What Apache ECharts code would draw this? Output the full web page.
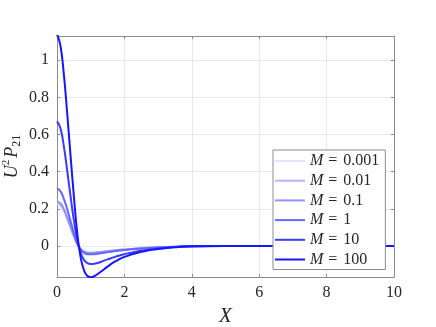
<!DOCTYPE html>
<html>
<head>
<meta charset="utf-8">
<script src="https://cdn.jsdelivr.net/npm/echarts@6/dist/echarts.min.js"></script>
<style>
  html, body { margin: 0; padding: 0; background: #fff; }
  #chart { width: 436px; height: 327px; }
</style>
</head>
<body>
<div id="chart"></div>
<script>
  // sample positions along X
  let xVals = [0, 0.1, 0.2, 0.3, 0.4, 0.5, 0.6, 0.7, 0.8, 0.9, 1.0, 1.1, 1.2, 1.3, 1.4, 1.5, 1.6, 1.7, 1.8, 1.9, 2.0,
    2.2, 2.4, 2.6, 2.8, 3.0, 3.5, 4, 5, 6, 7, 8, 9, 10]

  let mLabels = ['0.001', '0.01', '0.1', '1', '10', '100']

  let yM0001 = [0.228, 0.218, 0.19, 0.147, 0.1, 0.052, 0.011, -0.015, -0.029, -0.035, -0.036, -0.035, -0.033, -0.031, -0.029, -0.027, -0.025, -0.023, -0.021, -0.02, -0.019,
    -0.016, -0.013, -0.011, -0.009, -0.007, -0.004, -0.001, 0, 0, 0, 0, 0, 0]
  let yM001 = [0.232, 0.222, 0.193, 0.15, 0.102, 0.053, 0.011, -0.015, -0.03, -0.036, -0.037, -0.036, -0.034, -0.032, -0.03, -0.028, -0.026, -0.024, -0.022, -0.02, -0.019,
    -0.016, -0.013, -0.011, -0.009, -0.007, -0.004, -0.001, 0, 0, 0, 0, 0, 0]
  let yM01 = [0.24, 0.23, 0.2, 0.155, 0.105, 0.055, 0.012, -0.016, -0.031, -0.037, -0.038, -0.037, -0.035, -0.033, -0.031, -0.029, -0.027, -0.025, -0.023, -0.021, -0.02,
    -0.017, -0.014, -0.011, -0.009, -0.007, -0.004, -0.001, 0, 0, 0, 0, 0, 0]
  let yM1 = [0.31, 0.295, 0.255, 0.2, 0.135, 0.07, 0.015, -0.02, -0.037, -0.044, -0.045, -0.044, -0.042, -0.039, -0.036, -0.033, -0.031, -0.028, -0.026, -0.024, -0.022,
    -0.018, -0.015, -0.012, -0.01, -0.008, -0.004, -0.001, 0, 0, 0, 0, 0, 0]
  let yM10 = [0.67, 0.635, 0.54, 0.41, 0.27, 0.14, 0.035, -0.035, -0.075, -0.092, -0.097, -0.096, -0.092, -0.086, -0.079, -0.072, -0.066, -0.06, -0.054, -0.049, -0.044,
    -0.036, -0.029, -0.023, -0.018, -0.014, -0.006, -0.002, 0, 0, 0, 0, 0, 0]
  let yM100 = [1.14, 1.08, 0.93, 0.72, 0.49, 0.27, 0.07, -0.06, -0.13, -0.162, -0.168, -0.163, -0.152, -0.139, -0.125, -0.111, -0.098, -0.086, -0.076, -0.067, -0.059,
    -0.046, -0.036, -0.028, -0.021, -0.016, -0.007, -0.002, 0, 0, 0, 0, 0, 0]

  let seriesY = [yM0001, yM001, yM01, yM1, yM10, yM100]
  let colors = ['#e4e4ff', '#b4b4ff', '#9292ff', '#6767ff', '#3a3aff', '#1616ff']

  let serif = 'Liberation Serif'
  let textColor = '#262626'
  let frameColor = '#8c8c8c'
  let gridColor = '#e8e8e8'

  let names = mLabels.map(m => '{i|M}{e|=}' + m)

  let baseAxis = {
    axisLine: { show: true, onZero: false, lineStyle: { color: frameColor, width: 1 } },
    axisTick: { show: true, inside: true, length: 3, lineStyle: { color: frameColor } }
  }

  let option = {
    animation: false,
    backgroundColor: '#fff',
    grid: { left: 57, right: 42, top: 36, bottom: 50, containLabel: false, outerBoundsMode: 'none' },
    legend: {
      orient: 'vertical',
      left: 273,
      top: 150,
      data: names,
      icon: 'path://M0,0 L30,0 L30,2 L0,2 Z',
      itemWidth: 30,
      itemHeight: 14,
      itemGap: 3.7,
      padding: [3, 6, 2, 2],
      backgroundColor: '#fff',
      borderColor: frameColor,
      borderWidth: 1,
      borderRadius: 0,
      textStyle: {
        fontFamily: serif,
        fontSize: 16,
        lineHeight: 14,
        color: textColor,
        rich: {
          i: { fontFamily: serif, fontStyle: 'italic', fontSize: 16, lineHeight: 14, color: textColor },
          e: { fontFamily: serif, fontSize: 16, lineHeight: 14, color: textColor, padding: [0, 6, 0, 5] }
        }
      }
    },
    xAxis: [Object.assign({}, baseAxis, {
      type: 'value',
      min: 0,
      max: 10,
      interval: 2,
      position: 'bottom',
      name: 'X',
      nameLocation: 'middle',
      nameGap: 29,
      nameTextStyle: { fontFamily: serif, fontStyle: 'italic', fontSize: 21, color: textColor },
      axisLabel: { fontFamily: serif, fontSize: 16, color: textColor, margin: 8 },
      splitLine: { show: true, lineStyle: { color: gridColor } }
    }), Object.assign({}, baseAxis, {
      type: 'value',
      min: 0,
      max: 10,
      interval: 2,
      position: 'top',
      axisLabel: { show: false },
      splitLine: { show: false }
    })],
    yAxis: [Object.assign({}, baseAxis, {
      type: 'value',
      min: -0.167,
      max: 1.13,
      splitNumber: 7,
      position: 'left',
      name: '{i|U}{sup|2}{i|P}{sub|21}',
      nameLocation: 'middle',
      nameRotate: 90,
      nameGap: 34,
      nameMoveOverlap: false,
      nameTextStyle: {
        fontFamily: serif,
        fontSize: 18,
        color: textColor,
        rich: {
          i: { fontFamily: serif, fontStyle: 'italic', fontSize: 18, color: textColor, lineHeight: 22 },
          sup: { fontFamily: serif, fontSize: 11, color: textColor, verticalAlign: 'top', lineHeight: 22, padding: [0, 2, 0, 0] },
          sub: { fontFamily: serif, fontSize: 12, color: textColor, verticalAlign: 'bottom', lineHeight: 16, padding: [8, 0, 0, 0] }
        }
      },
      axisLabel: { fontFamily: serif, fontSize: 16, color: textColor, margin: 8, showMinLabel: false, showMaxLabel: false },
      splitLine: { show: true, lineStyle: { color: gridColor } }
    }), Object.assign({}, baseAxis, {
      type: 'value',
      min: -0.167,
      max: 1.13,
      splitNumber: 7,
      position: 'right',
      axisLabel: { show: false },
      splitLine: { show: false }
    })],
    series: seriesY.map((ys, i) => ({
      name: names[i],
      type: 'line',
      xAxisIndex: 0,
      yAxisIndex: 0,
      smooth: true,
      symbol: 'none',
      color: colors[i],
      lineStyle: { color: colors[i], width: 2 },
      data: xVals.map((x, j) => [x, ys[j]])
    }))
  }

  let chart = echarts.init(document.getElementById('chart'))
  chart.setOption(option)
</script>
</body>
</html>
